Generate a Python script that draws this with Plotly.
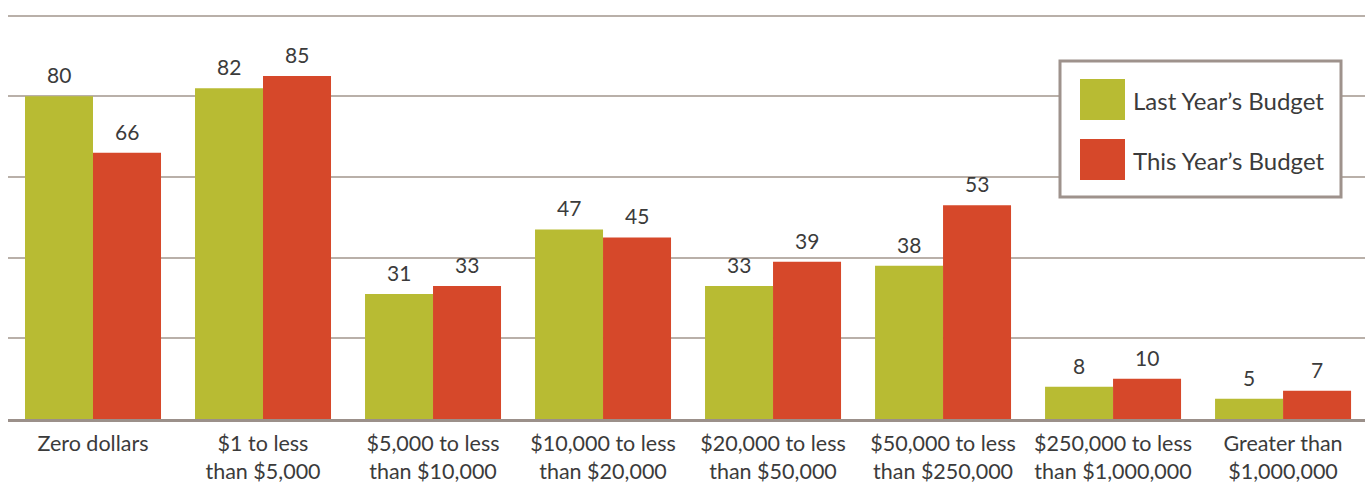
import plotly.graph_objects as go

categories = ["Zero dollars", "$1 to less<br>than $5,000", "$5,000 to less<br>than $10,000",
              "$10,000 to less<br>than $20,000", "$20,000 to less<br>than $50,000",
              "$50,000 to less<br>than $250,000", "$250,000 to less<br>than $1,000,000",
              "Greater than<br>$1,000,000"]
last_year = [80, 82, 31, 47, 33, 38, 8, 5]
this_year = [66, 85, 33, 45, 39, 53, 10, 7]
series_names = ["Last Year\u2019s Budget", "This Year\u2019s Budget"]
colors = ["#b8bb33", "#d6482a"]

FONT = "Lato"
TXT = "#3b3b3b"

W, H = 1365, 483
L, R, T, B = 8, 0, 14, 64
pw, ph = W - L - R, H - T - B
XMAX = 7.482
cat_px = pw / (XMAX + 0.5)
bar_px = cat_px * 0.4

fig = go.Figure()
annotations = []
for k, (name, vals, col) in enumerate(zip(series_names, [last_year, this_year], colors)):
    fig.add_trace(go.Bar(
        x=list(range(len(categories))), y=vals, name=name, marker_color=col,
        marker_line_width=0, hoverinfo="skip",
    ))
    for i, v in enumerate(vals):
        annotations.append(dict(x=i, y=v, xref="x", yref="y", text=str(v), showarrow=False,
                                xshift=(k - 0.5) * bar_px, yshift=7, yanchor="bottom",
                                font=dict(family=FONT, size=21, color=TXT)))

def px(x):
    return (x - L) / pw

def py(y):
    return (H - B - y) / ph

shapes = [
    dict(type="rect", xref="paper", yref="paper", x0=px(1060), x1=px(1341), y0=py(197), y1=py(61),
         line=dict(color="#9e928c", width=3), fillcolor="white", layer="above"),
]
for i, (name, col) in enumerate(zip(series_names, colors)):
    top = 79 + i * 60
    shapes.append(dict(type="rect", xref="paper", yref="paper", x0=px(1080), x1=px(1125),
                       y0=py(top + 41), y1=py(top), line=dict(width=0), fillcolor=col, layer="above"))
    annotations.append(dict(xref="paper", yref="paper", x=px(1131), y=py(top + 21), text=name,
                            showarrow=False, xanchor="left", yanchor="middle",
                            font=dict(family=FONT, size=24, color=TXT)))

fig.update_layout(
    width=W, height=H, margin=dict(l=L, r=R, t=T, b=B, autoexpand=False),
    paper_bgcolor="white", plot_bgcolor="white",
    barmode="group", bargap=0.2, bargroupgap=0,
    showlegend=False, shapes=shapes, annotations=annotations,
    font=dict(family=FONT, color=TXT),
    xaxis=dict(tickmode="array", tickvals=list(range(len(categories))), ticktext=categories,
               range=[-0.5, XMAX], showgrid=False, showline=True, linecolor="#9b908a", linewidth=2.5,
               ticks="", tickfont=dict(family=FONT, size=21.5, color=TXT), automargin=False,
               ticklabelstandoff=3),
    yaxis=dict(range=[0, 100.4], dtick=20, showgrid=True, gridcolor="#b9b0a9", gridwidth=1.5,
               showticklabels=False, zeroline=False, showline=False, automargin=False),
)
fig.write_html("out.html", config={"displayModeBar": False},
               post_script="document.body.style.margin='0';document.body.style.overflow='hidden';")
